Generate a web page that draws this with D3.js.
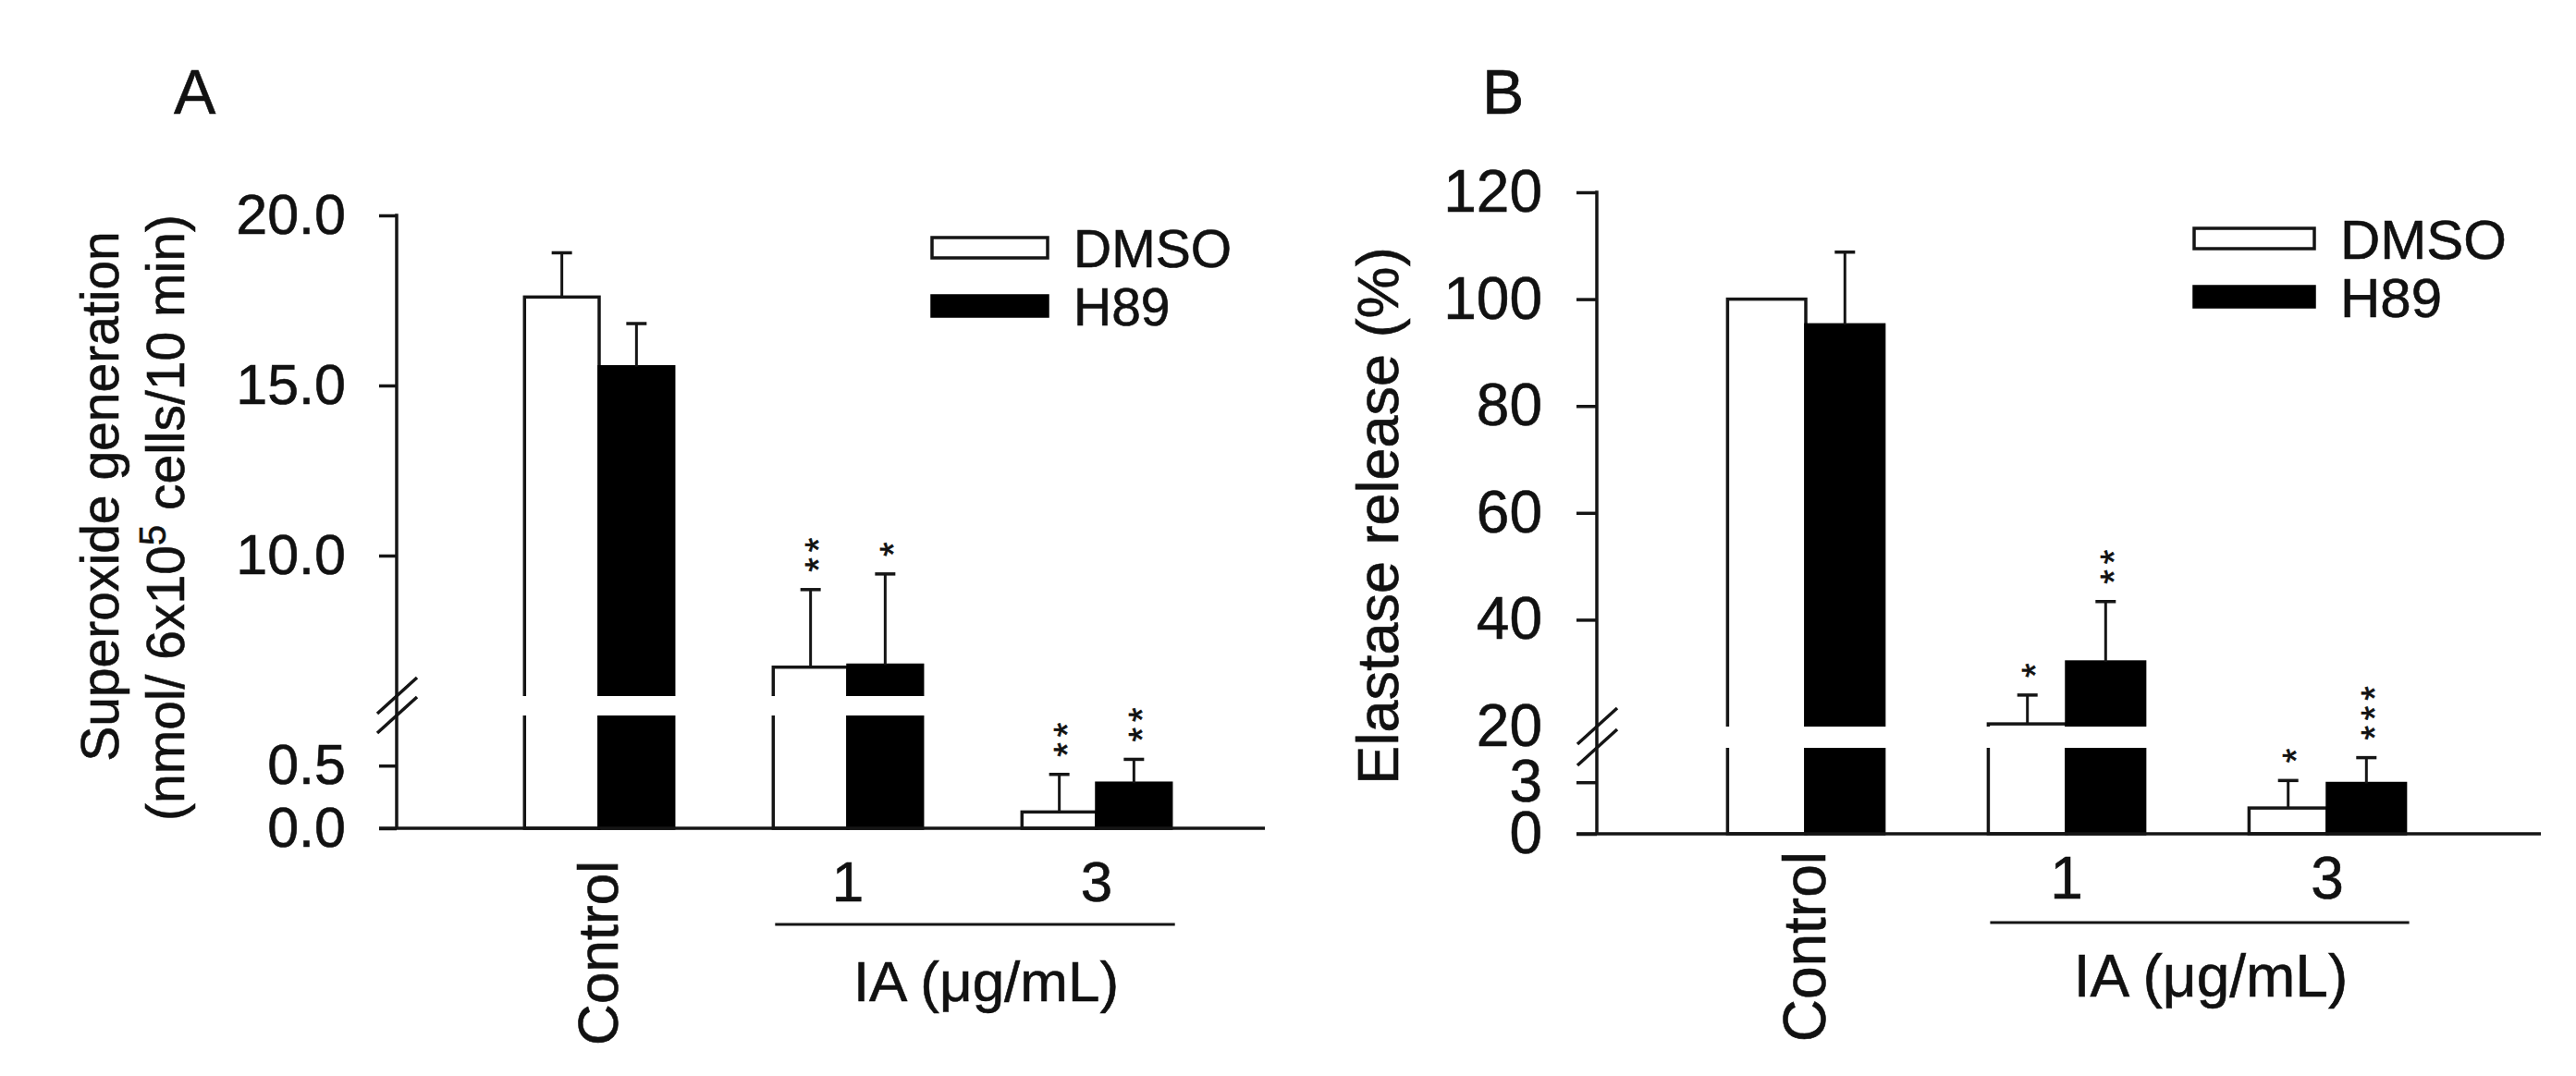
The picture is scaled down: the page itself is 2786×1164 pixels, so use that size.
<!DOCTYPE html>
<html>
<head>
<meta charset="utf-8">
<script src="https://cdn.jsdelivr.net/npm/d3@7/dist/d3.min.js"></script>
<style>
  body { margin: 0; background: #fff; }
  svg { display: block; }
  text { font-family: "Liberation Sans", Arial, sans-serif; fill: #111; stroke: #111; stroke-width: 0.6px; }
</style>
</head>
<body>
<div id="chart"></div>
<script>
// Categories and groups
const categories = ["Control", "1", "3"];
const groups = ["DMSO", "H89"];

// Panel A - superoxide generation (nmol/6x10^5 cells/10 min)
const superDmso = [17.6, 6.72, 0.13];
const superDmsoErr = [1.3, 2.28, 0.30];
const superH89 = [15.55, 6.78, 0.36];
const superH89Err = [1.27, 2.68, 0.19];
const superStarsDmso = ["", "**", "**"];
const superStarsH89 = ["", "*", "**"];
const superTicksHigh = [10, 15, 20];
const superTicksLow = [0, 0.5];

// Panel B - elastase release (%)
const elaDmso = [100, 20.5, 1.5];
const elaDmsoErr = [0, 5.4, 1.6];
const elaH89 = [95.2, 32.1, 2.93];
const elaH89Err = [13.6, 11.3, 1.5];
const elaStarsDmso = ["", "*", "*"];
const elaStarsH89 = ["", "**", "***"];
const elaTicksHigh = [20, 40, 60, 80, 100, 120];
const elaTicksLow = [0, 3];

const ink = "#151515";

const svg = d3.select("#chart")
  .append("svg")
  .attr("width", 2786)
  .attr("height", 1164);

function panel(o) {
  const g = svg.append("g");

  // Broken y scales: low part below the gap, high part above it
  const yHigh = d3.scaleLinear().domain(o.highDomain).range([o.gapTop, o.top]);
  const yLow = d3.scaleLinear().domain(o.lowDomain).range([o.base, o.gapBot]);
  const y = v => v > o.lowDomain[1] ? yHigh(v) : yLow(v);

  const x = d3.scaleBand().domain(categories).range(o.band)
    .paddingInner(0.4).paddingOuter(0.2);
  const xSub = d3.scaleBand().domain(groups).range([0, x.bandwidth()]);

  // Rows for the bars
  const rows = [];
  categories.forEach((c, i) => {
    rows.push({ cat: c, grp: "DMSO", v: o.dmso[i], e: o.dmsoErr[i], s: o.starsDmso[i] });
    rows.push({ cat: c, grp: "H89", v: o.h89[i], e: o.h89Err[i], s: o.starsH89[i] });
  });

  // Bars
  g.selectAll(".bar")
    .data(rows)
    .join("rect")
    .attr("class", "bar")
    .attr("x", d => x(d.cat) + xSub(d.grp))
    .attr("y", d => y(d.v))
    .attr("width", xSub.bandwidth())
    .attr("height", d => o.base - y(d.v))
    .attr("fill", d => d.grp == "DMSO" ? "#fff" : "#000")
    .attr("stroke", d => d.grp == "DMSO" ? ink : "#000")
    .attr("stroke-width", 3.5);

  // White gap across bars that cross the break
  g.selectAll(".gap")
    .data(rows.filter(d => d.v > o.lowDomain[1]))
    .join("rect")
    .attr("class", "gap")
    .attr("x", d => x(d.cat) + xSub(d.grp) - 3)
    .attr("y", o.gapTop)
    .attr("width", xSub.bandwidth() + 6)
    .attr("height", o.gapBot - o.gapTop)
    .attr("fill", "#fff");

  // Error bars (upper only)
  const withErr = rows.filter(d => d.e > 0);
  const cx = d => x(d.cat) + xSub(d.grp) + xSub.bandwidth() / 2;
  g.selectAll(".err")
    .data(withErr)
    .join("line")
    .attr("class", "err")
    .attr("x1", cx).attr("x2", cx)
    .attr("y1", d => y(d.v)).attr("y2", d => y(d.v + d.e))
    .attr("stroke", ink).attr("stroke-width", 3);
  g.selectAll(".cap")
    .data(withErr)
    .join("line")
    .attr("class", "cap")
    .attr("x1", d => cx(d) - 11).attr("x2", d => cx(d) + 11)
    .attr("y1", d => y(d.v + d.e)).attr("y2", d => y(d.v + d.e))
    .attr("stroke", ink).attr("stroke-width", 3.5);

  // Significance stars, stacked upward above the caps (one rotated text each)
  g.selectAll(".stars")
    .data(rows.filter(d => d.s.length))
    .join("text")
    .attr("class", "stars")
    .attr("transform", d => "translate(" + (cx(d) - 1) + "," + (y(d.v + d.e) - 19) + ") rotate(-90)")
    .attr("dy", "0.58em")
    .style("font-size", "40px")
    .style("letter-spacing", "5.9px")
    .text(d => d.s);

  // Y axis
  const fmt = o.fmt;
  const axHigh = g.append("g")
    .attr("transform", "translate(" + o.axisX + ",0)")
    .call(d3.axisLeft(yHigh).tickValues(o.ticksHigh).tickSize(o.tickSize)
      .tickPadding(o.tickPad).tickFormat(fmt));
  const axLow = g.append("g")
    .attr("transform", "translate(" + o.axisX + ",0)")
    .call(d3.axisLeft(yLow).tickValues(o.ticksLow).tickSize(o.tickSize)
      .tickPadding(o.tickPad).tickFormat(fmt));
  [axHigh, axLow].forEach(a => {
    a.select(".domain").remove();
    a.selectAll(".tick line").attr("stroke", ink).attr("stroke-width", 3.5);
    a.selectAll(".tick text")
      .attr("fill", "#111")
      .style("font-family", "\"Liberation Sans\", Arial, sans-serif")
      .style("font-size", o.tickFont + "px");
  });
  // no tick mark where the break sits
  axHigh.selectAll(".tick").filter(d => d == o.highDomain[0]).select("line").remove();

  g.append("line")
    .attr("x1", o.axisX).attr("x2", o.axisX)
    .attr("y1", o.top - 1.75).attr("y2", o.base)
    .attr("stroke", ink).attr("stroke-width", 3.5);

  // X axis line
  g.append("line")
    .attr("x1", o.axisX - o.tickSize).attr("x2", o.xEnd)
    .attr("y1", o.base).attr("y2", o.base)
    .attr("stroke", ink).attr("stroke-width", 3.5);

  // Break marks on the y axis
  [o.gapTop, o.gapBot].forEach(yy => {
    g.append("line")
      .attr("x1", o.axisX - 21).attr("y1", yy + 19)
      .attr("x2", o.axisX + 22).attr("y2", yy - 20)
      .attr("stroke", ink).attr("stroke-width", 3.5);
  });

  // Category labels
  g.append("text")
    .attr("transform", "translate(" + (x("Control") + x.bandwidth() / 2) + "," + o.ctrlY + ") rotate(-90)")
    .attr("text-anchor", "end")
    .attr("dy", "0.33em")
    .style("font-size", o.catFont + "px")
    .text("Control");
  ["1", "3"].forEach(c => {
    g.append("text")
      .attr("x", x(c) + x.bandwidth() / 2)
      .attr("y", o.numY)
      .attr("text-anchor", "middle")
      .style("font-size", o.catFont + "px")
      .text(c);
  });
  const lx1 = x("1") + 2, lx2 = x("3") + x.bandwidth() + 4;
  g.append("line")
    .attr("x1", lx1).attr("x2", lx2)
    .attr("y1", o.lineY).attr("y2", o.lineY)
    .attr("stroke", ink).attr("stroke-width", 3);
  g.append("text")
    .attr("x", (lx1 + lx2) / 2 + 12)
    .attr("y", o.iaY)
    .attr("text-anchor", "middle")
    .style("font-size", o.catFont + "px")
    .text("IA (\u03bcg/mL)");

  // Legend
  groups.forEach((gr, i) => {
    const ly = o.legY + i * 63;
    g.append("rect")
      .attr("x", o.legX).attr("y", ly - o.legH / 2)
      .attr("width", o.legW).attr("height", o.legH)
      .attr("fill", gr == "DMSO" ? "#fff" : "#000")
      .attr("stroke", gr == "DMSO" ? ink : "#000")
      .attr("stroke-width", 3.5);
    g.append("text")
      .attr("x", o.legX + o.legW + 28)
      .attr("y", ly)
      .attr("dy", "0.36em")
      .style("font-size", o.legFont + "px")
      .text(gr);
  });

  // Panel letter
  g.append("text")
    .attr("x", o.letterX).attr("y", 123)
    .style("font-size", "68px")
    .text(o.letter);

  return g;
}

// Panel A
const gA = panel({
  letter: "A", letterX: 188,
  dmso: superDmso, dmsoErr: superDmsoErr, h89: superH89, h89Err: superH89Err,
  starsDmso: superStarsDmso, starsH89: superStarsH89,
  ticksHigh: superTicksHigh, ticksLow: superTicksLow,
  highDomain: [5.87, 20], lowDomain: [0, 0.9],
  axisX: 429, top: 233, base: 896, gapTop: 753, gapBot: 774,
  band: [513.5, 1320.5], xEnd: 1368,
  tickSize: 19, tickPad: 36, tickFont: 61, fmt: d3.format(".1f"),
  catFont: 62, ctrlY: 931, numY: 975, lineY: 1000, iaY: 1083,
  legX: 1008, legY: 268, legW: 125, legH: 22, legFont: 57
});

// Y label A (two lines)
gA.append("text")
  .attr("transform", "translate(128,537) rotate(-90)")
  .attr("text-anchor", "middle")
  .style("font-size", "57px")
  .text("Superoxide generation");
const la2 = gA.append("text")
  .attr("transform", "translate(199,560) rotate(-90)")
  .attr("text-anchor", "middle")
  .style("font-size", "57px");
la2.append("tspan").text("(nmol/ 6x10");
la2.append("tspan").attr("dy", -20).style("font-size", "40px").text("5");
la2.append("tspan").attr("dy", 20).text(" cells/10 min)");

// Panel B
const gB = panel({
  letter: "B", letterX: 1603,
  dmso: elaDmso, dmsoErr: elaDmsoErr, h89: elaH89, h89Err: elaH89Err,
  starsDmso: elaStarsDmso, starsH89: elaStarsH89,
  ticksHigh: elaTicksHigh, ticksLow: elaTicksLow,
  highDomain: [20, 120], lowDomain: [0, 5],
  axisX: 1727, top: 208, base: 902, gapTop: 786, gapBot: 809,
  band: [1812, 2658], xEnd: 2748,
  tickSize: 22, tickPad: 37, tickFont: 64, fmt: d3.format("d"),
  catFont: 64, ctrlY: 921, numY: 972, lineY: 998, iaY: 1078,
  legX: 2373, legY: 258, legW: 130, legH: 22, legFont: 60
});

gB.append("text")
  .attr("transform", "translate(1512,558) rotate(-90)")
  .attr("text-anchor", "middle")
  .style("font-size", "63px")
  .text("Elastase release (%)");
</script>
</body>
</html>
